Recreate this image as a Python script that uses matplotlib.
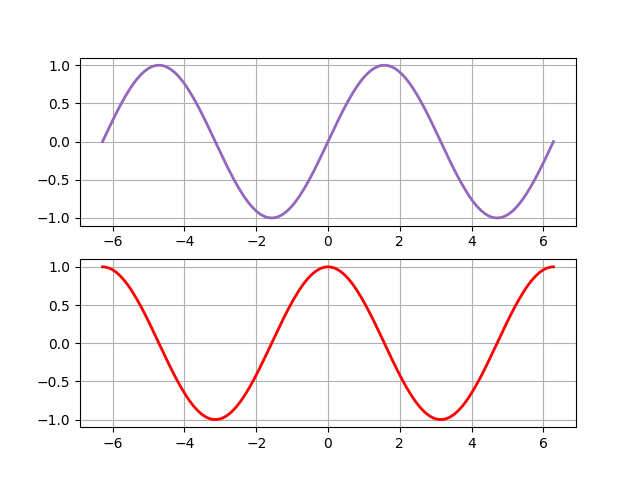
import matplotlib.pyplot as plt
import numpy as np

# x range and the two curves (sine on top, cosine below)
x_min = -2 * np.pi
x_max = 2 * np.pi
n_points = 200

x = np.linspace(x_min, x_max, n_points)
y_sin = np.sin(x)
y_cos = np.cos(x)

fig, (ax1, ax2) = plt.subplots(2, 1, figsize=(6.4, 4.8), dpi=100)

ax1.plot(x, y_sin, color='#9467bd', linewidth=2)
ax1.grid(True)

ax2.plot(x, y_cos, color='red', linewidth=2)
ax2.grid(True)

plt.savefig("out.png")
